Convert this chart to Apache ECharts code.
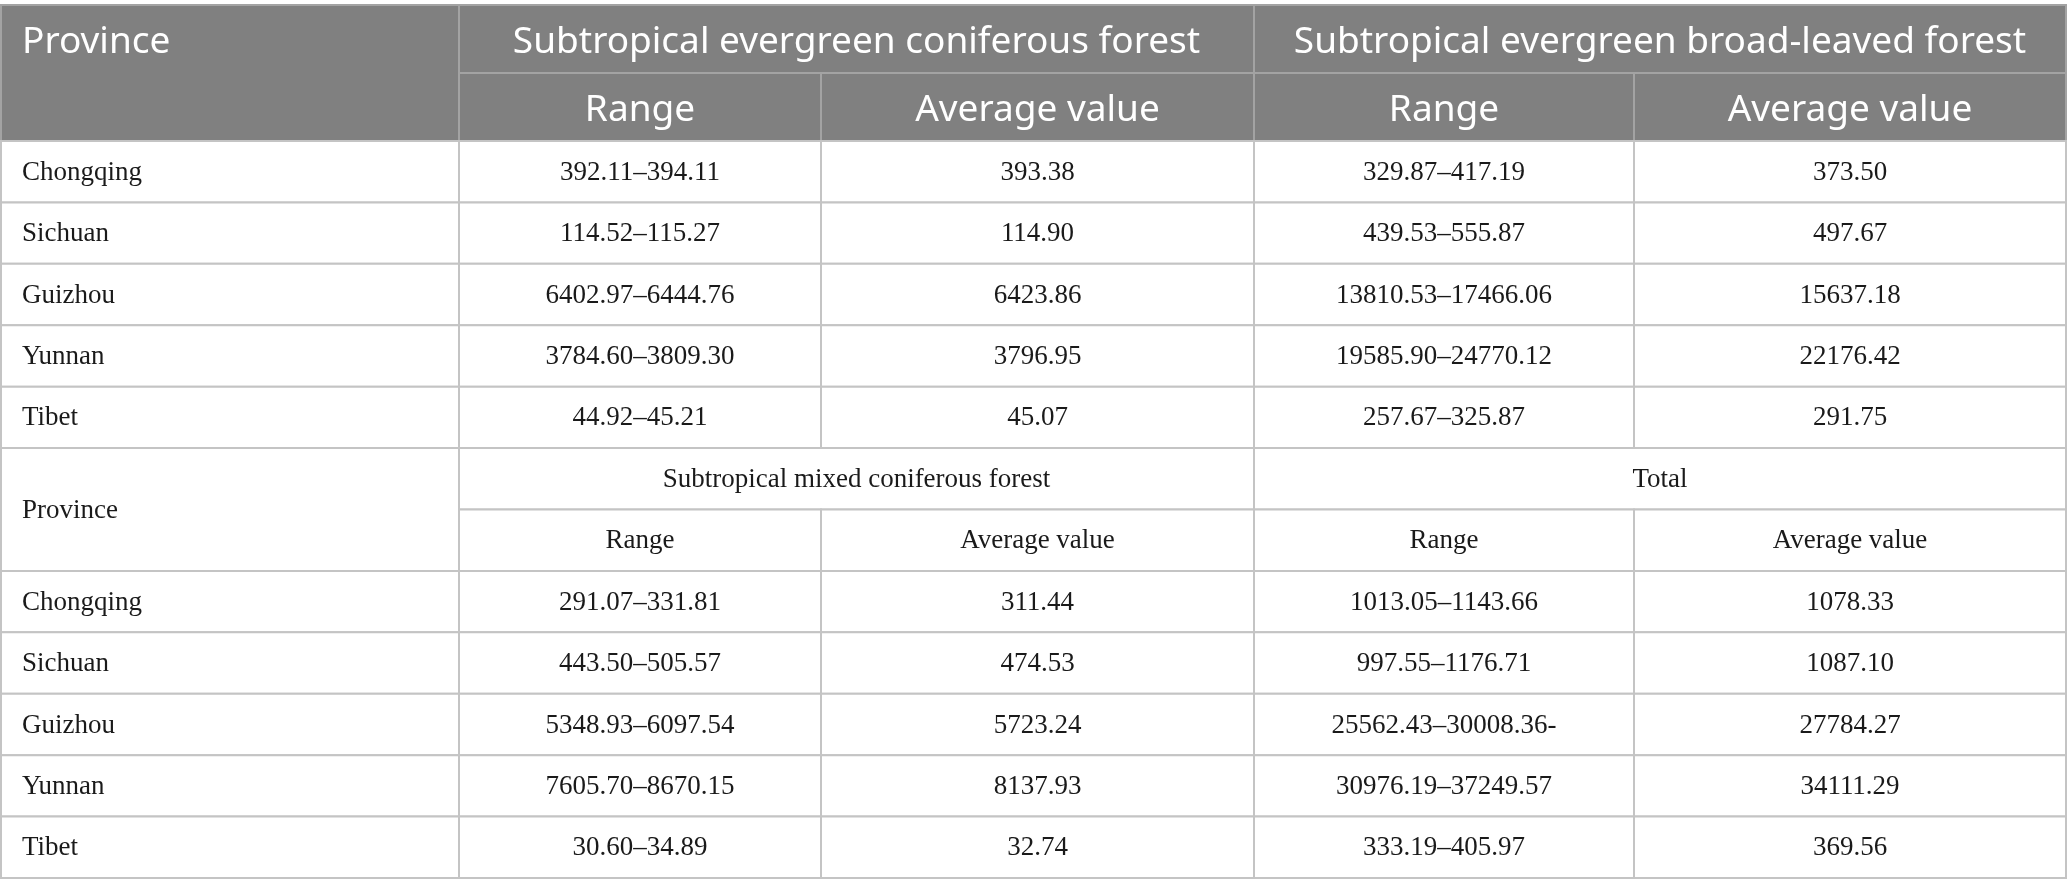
<!DOCTYPE html>
<html>
<head>
<meta charset="UTF-8">
<title>index.html</title>
<style type="text/css">
html, body { margin: 0; padding: 0; background: #fff; }
#main { width: 2067px; height: 896px; }
</style>
</head>
<body>
  <div id="main"></div>
</body>
<script type="text/javascript" src="https://cdn.jsdelivr.net/npm/echarts@6/dist/echarts.min.js"></script>
<script>
  // table contents
  var provinces = [ 'Chongqing', 'Sichuan', 'Guizhou', 'Yunnan', 'Tibet' ];
  var coniferousRange = [ '392.11–394.11', '114.52–115.27', '6402.97–6444.76', '3784.60–3809.30', '44.92–45.21' ];
  var coniferousAvg = [ '393.38', '114.90', '6423.86', '3796.95', '45.07' ];
  var broadRange = [ '329.87–417.19', '439.53–555.87', '13810.53–17466.06', '19585.90–24770.12', '257.67–325.87' ];
  var broadAvg = [ '373.50', '497.67', '15637.18', '22176.42', '291.75' ];
  var mixedRange = [ '291.07–331.81', '443.50–505.57', '5348.93–6097.54', '7605.70–8670.15', '30.60–34.89' ];
  var mixedAvg = [ '311.44', '474.53', '5723.24', '8137.93', '32.74' ];
  var totalRange = [ '1013.05–1143.66', '997.55–1176.71', '25562.43–30008.36-', '30976.19–37249.57', '333.19–405.97' ];
  var totalAvg = [ '1078.33', '1087.10', '27784.27', '34111.29', '369.56' ];

  var topGroups = [ 'Subtropical evergreen coniferous forest', 'Subtropical evergreen broad-leaved forest' ];
  var bottomGroups = [ 'Subtropical mixed coniferous forest', 'Total' ];
  var subHeads = [ 'Range', 'Average value' ];
  var firstHead = 'Province';

  // layout: relative column widths and row heights
  var colWidths = [ 458, 362, 433, 380, 432 ];
  var rowHeights = [ 68, 68, 61.4, 61.4, 61.4, 61.4, 61.4, 61.4, 61.4, 61.4, 61.4, 61.4, 61.4, 61.4 ];

  function edges(arr) {
    var e = [ 0 ];
    arr.forEach(function(v) { e.push(e[e.length - 1] + v); });
    return e;
  }
  var cx = edges(colWidths);
  var ry = edges(rowHeights);

  var cells = [];
  function cell(c0, c1, r0, r1, text, kind, align, textRow) {
    cells.push({
      value : [ cx[c0], cx[c1], ry[r0], ry[r1] ],
      text : text,
      kind : kind,
      align : align || 'center',
      textRow : textRow
    });
  }

  // top header (grey)
  cell(0, 1, 0, 2, firstHead, 'head', 'left', 0);
  cell(1, 3, 0, 1, topGroups[0], 'head');
  cell(3, 5, 0, 1, topGroups[1], 'head');
  for (var k = 0; k < 4; k++) {
    cell(1 + k, 2 + k, 1, 2, subHeads[k % 2], 'head');
  }
  // top body
  for (var i = 0; i < provinces.length; i++) {
    var r = 2 + i;
    cell(0, 1, r, r + 1, provinces[i], 'body', 'left');
    cell(1, 2, r, r + 1, coniferousRange[i], 'body');
    cell(2, 3, r, r + 1, coniferousAvg[i], 'body');
    cell(3, 4, r, r + 1, broadRange[i], 'body');
    cell(4, 5, r, r + 1, broadAvg[i], 'body');
  }
  // second header (plain)
  cell(0, 1, 7, 9, firstHead, 'body', 'left');
  cell(1, 3, 7, 8, bottomGroups[0], 'body');
  cell(3, 5, 7, 8, bottomGroups[1], 'body');
  for (var k2 = 0; k2 < 4; k2++) {
    cell(1 + k2, 2 + k2, 8, 9, subHeads[k2 % 2], 'body');
  }
  // bottom body
  for (var j = 0; j < provinces.length; j++) {
    var r2 = 9 + j;
    cell(0, 1, r2, r2 + 1, provinces[j], 'body', 'left');
    cell(1, 2, r2, r2 + 1, mixedRange[j], 'body');
    cell(2, 3, r2, r2 + 1, mixedAvg[j], 'body');
    cell(3, 4, r2, r2 + 1, totalRange[j], 'body');
    cell(4, 5, r2, r2 + 1, totalAvg[j], 'body');
  }

  var myChart = echarts.init(document.getElementById('main'));
  var option = {
    animation : false,
    grid : {
      left : 1,
      right : 1,
      top : 5,
      bottom : 18
    },
    xAxis : {
      type : 'value',
      min : 0,
      max : cx[cx.length - 1],
      show : false
    },
    yAxis : {
      type : 'value',
      min : 0,
      max : ry[ry.length - 1],
      inverse : true,
      show : false
    },
    series : [ {
      type : 'custom',
      data : cells,
      renderItem : function(params, api) {
        var c = cells[params.dataIndex];
        var p0 = api.coord([ api.value(0), api.value(2) ]);
        var p1 = api.coord([ api.value(1), api.value(3) ]);
        var head = c.kind === 'head';
        var ty = (p0[1] + p1[1]) / 2;
        if (c.textRow !== undefined) {
          // text sits in the first row of a merged cell
          var q = api.coord([ 0, ry[c.textRow + 1] ]);
          ty = (p0[1] + q[1]) / 2;
        }
        var tx = c.align === 'left' ? p0[0] + 21 : (p0[0] + p1[0]) / 2;
        return {
          type : 'group',
          children : [ {
            type : 'rect',
            shape : {
              x : p0[0],
              y : p0[1],
              width : p1[0] - p0[0],
              height : p1[1] - p0[1]
            },
            style : {
              fill : head ? '#808080' : '#ffffff',
              stroke : head ? '#a3a3a3' : '#c4c4c4',
              lineWidth : 2
            }
          }, {
            type : 'text',
            style : {
              text : c.text,
              x : tx,
              y : ty + (head ? 3 : 1),
              align : c.align,
              verticalAlign : 'middle',
              fill : head ? '#ffffff' : '#1a1a1a',
              fontSize : head ? 37 : 27,
              fontFamily : head ? 'Noto Sans' : 'Liberation Serif'
            }
          } ]
        };
      }
    } ]
  };
  myChart.setOption(option);
</script>
</html>
